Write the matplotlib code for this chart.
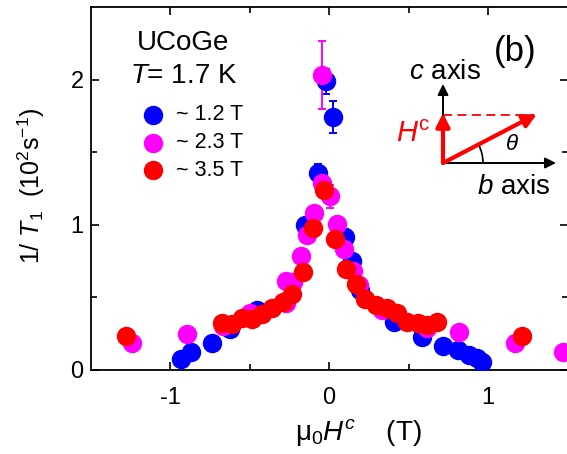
import matplotlib
matplotlib.use("Agg")
import matplotlib.pyplot as plt
from matplotlib.patches import Arc

plt.rcParams['font.family'] = ['Liberation Sans', 'DejaVu Sans']
plt.rcParams['mathtext.fontset'] = 'custom'
plt.rcParams['mathtext.rm'] = 'Liberation Sans'
plt.rcParams['mathtext.it'] = 'Liberation Sans:italic'
plt.rcParams['axes.unicode_minus'] = False

# 1/T1 vs field along c, three field strengths
blue_x = [-0.93, -0.87, -0.734, -0.623, -0.455, -0.151, -0.067, -0.019, 0.027,
          0.10, 0.143, 0.195, 0.409, 0.583, 0.715, 0.813, 0.883, 0.929, 0.964]
blue_y = [0.076, 0.126, 0.184, 0.283, 0.414, 1.0, 1.356, 1.99, 1.743,
          0.915, 0.754, 0.55, 0.333, 0.23, 0.166, 0.138, 0.103, 0.08, 0.057]
blue_err = [0, 0, 0, 0, 0, 0, 0.06, 0.086, 0.11,
            0.055, 0.04, 0, 0, 0, 0, 0, 0, 0, 0]

mag_x = [-1.241, -0.895, -0.664, -0.5, -0.272, -0.27, -0.225, -0.178, -0.136, -0.092,
         -0.042, -0.042, 0.006, 0.048, 0.094, 0.15, 0.19, 0.335, 0.616, 0.82, 1.17, 1.47]
mag_y = [0.184, 0.246, 0.30, 0.39, 0.616, 0.46, 0.609, 0.786, 0.93, 1.08,
         1.29, 2.034, 1.195, 1.007, 0.83, 0.68, 0.586, 0.41, 0.29, 0.26, 0.184, 0.126]
mag_err = [0, 0, 0, 0, 0, 0, 0, 0, 0, 0,
           0, 0.235, 0.08, 0, 0, 0, 0, 0, 0, 0, 0, 0]

red_x = [-1.277, -0.671, -0.612, -0.549, -0.486, -0.423, -0.36, -0.291, -0.235, -0.162,
         -0.099, -0.031, 0.038, 0.107, 0.17, 0.226, 0.296, 0.363, 0.426, 0.49,
         0.56, 0.618, 0.681, 1.216]
red_y = [0.237, 0.326, 0.315, 0.356, 0.35, 0.386, 0.425, 0.471, 0.524, 0.678,
         0.977, 1.237, 0.90, 0.694, 0.593, 0.488, 0.448, 0.425, 0.39, 0.333,
         0.326, 0.31, 0.333, 0.234]

labels = ['~ 1.2 T', '~ 2.3 T', '~ 3.5 T']
colors = ['#0000ff', '#ff00ff', '#ff0000']

W, H = 567, 454
fig = plt.figure(figsize=(W / 100, H / 100), dpi=100)
ax = fig.add_axes([90.5 / W, (H - 370) / H, 477 / W, 363 / H])

series = [(blue_x, blue_y, blue_err), (mag_x, mag_y, mag_err), (red_x, red_y, None)]
for (xs, ys, err), c in zip(series, colors):
    if err is not None:
        ax.errorbar(xs, ys, yerr=err, fmt='none', ecolor=c, elinewidth=1.4,
                    capsize=3, capthick=1.4, zorder=2)
    ax.plot(xs, ys, 'o', ms=14, color=c, mec='none', zorder=3)

ax.set_xlim(-1.5, 1.5)
ax.set_ylim(0, 2.5)
ax.set_xticks([-1, 0, 1])
ax.set_xticks([-0.5, 0.5], minor=True)
ax.set_yticks([0, 1, 2])
ax.set_yticks([0.5, 1.5], minor=True)
ax.tick_params(which='both', direction='in', top=True, right=True, width=1.2,
               labelsize=17)
ax.tick_params(which='major', length=6)
ax.tick_params(which='minor', length=4)
ax.tick_params(axis='x', pad=12)
ax.tick_params(axis='y', pad=5)
for s in ax.spines.values():
    s.set_linewidth(1.3)

ax.set_xlabel('μ$_0$$\\mathit{H}^{\\mathit{c}}$    (T)', fontsize=20, va='center')
ax.xaxis.set_label_coords((358 - 90) / 477, -(432 - 370) / 363)
ax.set_ylabel('1/ $\\mathit{T}_1$  (10$^2$s$^{-1}$)', fontsize=18, va='center')
ax.yaxis.set_label_coords((31 - 90) / 477, (370 - 186) / 363)

# overlay in pixel units for annotations and the field sketch
ov = fig.add_axes([0, 0, 1, 1], zorder=5)
ov.set_xlim(0, W)
ov.set_ylim(H, 0)
ov.axis('off')
ov.patch.set_visible(False)

ov.text(183, 43, 'UCoGe', fontsize=20, ha='center', va='center')
ov.text(184, 76, '$\\mathit{T}$= 1.7 K', fontsize=20, ha='center', va='center')
for i, (lab, c) in enumerate(zip(labels, colors)):
    y = 115 + 27.5 * i
    ov.plot(153, y, 'o', ms=14, color=c, mec='none')
    ov.text(176, y, lab, fontsize=15.5, ha='left', va='center')

ov.text(515, 52, '(b)', fontsize=25, ha='center', va='center')

o = (443, 163)
black_arrow = dict(arrowstyle='-|>', color='k', lw=1.4, mutation_scale=16,
                   shrinkA=0, shrinkB=0)
red_arrow = dict(arrowstyle='-|>', color='#ff0000', lw=3, mutation_scale=20,
                 shrinkA=0, shrinkB=0)
ov.annotate('', xy=(556, 163), xytext=o, arrowprops=black_arrow)
ov.annotate('', xy=(443, 84), xytext=o, arrowprops=black_arrow)
ov.plot([443, 528], [115, 115], color='#ff0000', lw=1.3, ls=(0, (5, 3)))
ov.annotate('', xy=(443, 113), xytext=o, arrowprops=red_arrow)
ov.annotate('', xy=(537, 114), xytext=o, arrowprops=red_arrow)
ov.add_patch(Arc(o, 80, 80, theta1=-27.5, theta2=0, color='k', lw=1.2))
ov.text(512, 145, '$\\theta$', fontsize=16, ha='center', va='center')
ov.text(431, 134, '$\\mathit{H}^{\\rm c}$', fontsize=21, color='#ff0000',
        ha='right', va='center')
ov.text(445, 72, '$\\mathit{c}$ axis', fontsize=20, ha='center', va='center')
ov.text(514, 187, '$\\mathit{b}$ axis', fontsize=20, ha='center', va='center')

fig.savefig('out.png', dpi=100)
